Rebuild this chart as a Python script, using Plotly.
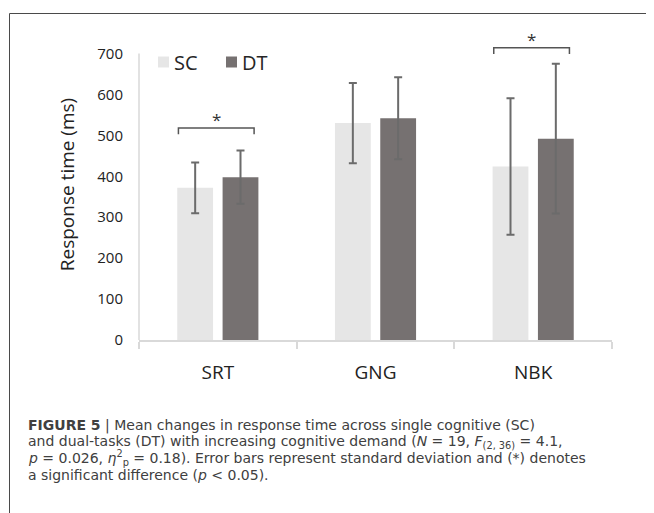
import plotly.graph_objects as go

# ---- data ----
categories = ["SRT", "GNG", "NBK"]
sc_mean = [372, 530, 424]
sc_sd = [62, 98, 167]
dt_mean = [398, 542, 492]
dt_sd = [65, 100, 183]
y_ticks = [0, 100, 200, 300, 400, 500, 600, 700]
series_names = ["SC", "DT"]
series_colors = ["#e6e6e6", "#767171"]
sig_groups = [0, 2]          # categories with a significant SC/DT difference
sig_levels = [518, 714]      # bracket heights (ms)

W, H = 654, 513
L, R, T, B = 131, 50, 21, 181
PW, PH = W - L - R, H - T - B

def px(x):  # pixel -> paper x
    return (x - L) / PW

def py(y):  # pixel -> paper y
    return 1 - (y - T) / PH

CHART_FONT = "Open Sans"
CAP_FONT = "DejaVu Sans"

fig = go.Figure()
fig.add_trace(go.Bar(
    name=series_names[0], x=categories, y=sc_mean,
    marker=dict(color=series_colors[0], line=dict(width=0)),
    error_y=dict(type="data", array=sc_sd, color="#6b6b6b", thickness=2, width=4),
))
fig.add_trace(go.Bar(
    name=series_names[1], x=categories, y=dt_mean,
    marker=dict(color=series_colors[1], line=dict(width=0)),
    error_y=dict(type="data", array=dt_sd, color="#6b6b6b", thickness=2, width=4),
))

shapes = []
# y axis line from 0 to 700
shapes.append(dict(type="line", xref="paper", yref="y", x0=0, x1=0, y0=0, y1=y_ticks[-1],
                   line=dict(color="#d9d9d9", width=1.5)))
# significance brackets
for g, lev in zip(sig_groups, sig_levels):
    x0, x1 = g - 0.25, g + 0.23
    tip = lev - 15
    shapes.append(dict(type="path", xref="x", yref="y",
                       path=f"M {x0},{tip} L {x0},{lev} L {x1},{lev} L {x1},{tip}",
                       line=dict(color="#555555", width=1.5)))
# outer frame
shapes.append(dict(type="path", xref="paper", yref="paper",
                   path=f"M {px(1.5)},{py(530)} L {px(1.5)},{py(5.5)} L {px(643.5)},{py(5.5)} L {px(643.5)},{py(530)}",
                   line=dict(color="#4a4a4a", width=1)))

annotations = []
# legend (custom, compact like the original)
leg_sq_x = [150, 218]
leg_y = 54
for name, col, sx in zip(series_names, series_colors, leg_sq_x):
    shapes.append(dict(type="rect", xref="paper", yref="paper",
                       x0=px(sx), x1=px(sx + 11), y0=py(leg_y + 5.5), y1=py(leg_y - 5.5),
                       fillcolor=col, line=dict(width=0)))
    annotations.append(dict(x=px(sx + 14), y=py(leg_y), xref="paper", yref="paper", text=name,
                            xanchor="left", yanchor="middle", showarrow=False,
                            font=dict(family=CHART_FONT, size=20, color="#262626")))

for g, lev in zip(sig_groups, sig_levels):
    annotations.append(dict(x=g - 0.01, y=lev + 21, xref="x", yref="y", text="*",
                            showarrow=False, font=dict(family=CHART_FONT, size=17, color="#333333")))

cap_lines = [
    "<b>FIGURE 5</b> | Mean changes in response time across single cognitive (SC)",
    "and dual-tasks (DT) with increasing cognitive demand (<i>N</i> = 19, <i>F</i><sub>(2, 36)</sub> = 4.1,",
    "<i>p</i> = 0.026, <i>η</i><sup>2</sup><sub>p</sub> = 0.18). Error bars represent standard deviation and (*) denotes",
    "a significant difference (<i>p</i> &lt; 0.05).",
]
cap_y = [417, 433.5, 450, 466.5]
for t, yy in zip(cap_lines, cap_y):
    annotations.append(dict(x=px(18), y=py(yy), xref="paper", yref="paper", text=t,
                            xanchor="left", yanchor="middle", showarrow=False,
                            font=dict(family=CAP_FONT, size=14, color="#404040")))

fig.update_layout(
    width=W, height=H,
    margin=dict(l=L, r=R, t=T, b=B),
    paper_bgcolor="white", plot_bgcolor="white",
    barmode="group", bargap=0.425, bargroupgap=0.21,
    font=dict(family=CHART_FONT, color="#404040"),
    showlegend=False,
    xaxis=dict(range=[-0.5, 2.5], showline=True, linecolor="#d9d9d9", linewidth=1.5,
               ticks="outside", tickson="boundaries", ticklen=7, tickcolor="#d9d9d9",
               tickwidth=1.5, showgrid=False, zeroline=False, ticklabelstandoff=14,
               tickfont=dict(family=CHART_FONT, size=19, color="#222222")),
    yaxis=dict(range=[0, 760], tickvals=y_ticks, showline=False, showgrid=False, zeroline=False,
               ticks="", ticklabelstandoff=15,
               tickfont=dict(family=CHART_FONT, size=15, color="#222222"),
               title=dict(text="Response time (ms)", standoff=17,
                          font=dict(family=CHART_FONT, size=19, color="#222222"))),
    shapes=shapes, annotations=annotations,
)

fig.write_html("out.html")
